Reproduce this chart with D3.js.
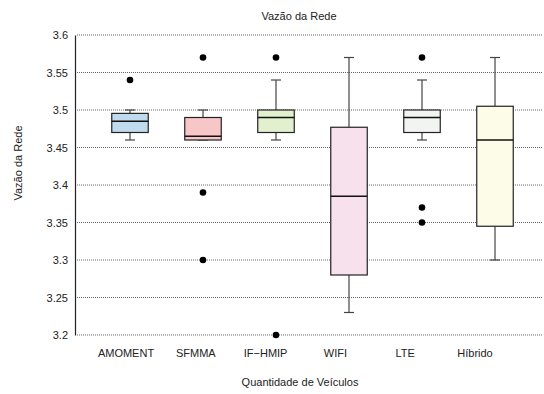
<!DOCTYPE html>
<html>
<head>
<meta charset="utf-8">
<script src="https://cdn.jsdelivr.net/npm/d3@7/dist/d3.min.js"></script>
<style>
  body { margin: 0; background: #fff; }
  svg { display: block; font-family: "Liberation Sans", Arial, sans-serif; }
</style>
</head>
<body>
<svg id="chart" width="544" height="394"></svg>
<script>
// Network throughput per protocol (five-number summaries plus outliers)
const categories = ["AMOMENT", "SFMMA", "IF\u2212HMIP", "WIFI", "LTE", "H\u00edbrido"];
const whiskerLow  = [3.46, 3.46, 3.46, 3.23, 3.46, 3.30];
const q1          = [3.47, 3.46, 3.47, 3.28, 3.47, 3.345];
const medians     = [3.485, 3.465, 3.49, 3.385, 3.49, 3.46];
const q3          = [3.4955, 3.49, 3.50, 3.477, 3.50, 3.505];
const whiskerHigh = [3.50, 3.50, 3.54, 3.57, 3.54, 3.57];
const outliers    = [[3.54], [3.57, 3.39, 3.30], [3.57, 3.20], [], [3.57, 3.37, 3.35], []];
const fills       = ["#c1dbee", "#f7c7c8", "#e3f0cd", "#f6e1ed", "#f2f4f2", "#fdfce8"];
const yTicks      = [3.2, 3.25, 3.3, 3.35, 3.4, 3.45, 3.5, 3.55, 3.6];

const svg = d3.select("#chart");

// Box positions and (slightly tighter) category label positions
const x = d3.scaleBand().domain(categories).range([93.5, 531.5]);
const xLabel = d3.scalePoint().domain(categories).range([126, 475]);
const y = d3.scaleLinear().domain([3.2, 3.6]).range([335, 35]);
const boxW = x.bandwidth() * 0.5;
const capW = 10;
const cx = d => x(d) + x.bandwidth() / 2;

// Horizontal dotted grid
svg.append("g").selectAll("line").data(yTicks).join("line")
  .attr("x1", 77).attr("x2", 543)
  .attr("y1", d => y(d)).attr("y2", d => y(d))
  .attr("stroke", "#666").attr("stroke-width", 1)
  .attr("stroke-dasharray", "1,1");

// Y axis
const yAxis = svg.append("g").attr("transform", "translate(75,0)")
  .call(d3.axisLeft(y).tickValues(yTicks).tickFormat(d3.format("~g")).tickSize(0).tickPadding(7));
yAxis.select(".domain").attr("stroke", "#222").attr("stroke-width", 1.2);
yAxis.selectAll("text").attr("font-size", 11).attr("fill", "#222")
  .attr("font-family", "Liberation Sans, Arial, sans-serif");

// X category labels
svg.append("g").selectAll("text").data(categories).join("text")
  .attr("x", d => xLabel(d)).attr("y", 357)
  .attr("text-anchor", "middle").attr("font-size", 11).attr("fill", "#222")
  .text(d => d);

const groups = svg.append("g").selectAll("g").data(categories).join("g");

// Whiskers
groups.append("line")
  .attr("x1", d => cx(d)).attr("x2", d => cx(d))
  .attr("y1", (d, i) => y(whiskerHigh[i])).attr("y2", (d, i) => y(q3[i]))
  .attr("stroke", "#444").attr("stroke-width", 1.2);
groups.append("line")
  .attr("x1", d => cx(d)).attr("x2", d => cx(d))
  .attr("y1", (d, i) => y(q1[i])).attr("y2", (d, i) => y(whiskerLow[i]))
  .attr("stroke", "#444").attr("stroke-width", 1.2);
groups.append("line")
  .attr("x1", d => cx(d) - capW / 2).attr("x2", d => cx(d) + capW / 2)
  .attr("y1", (d, i) => y(whiskerHigh[i])).attr("y2", (d, i) => y(whiskerHigh[i]))
  .attr("stroke", "#444").attr("stroke-width", 1.2);
groups.append("line")
  .attr("x1", d => cx(d) - capW / 2).attr("x2", d => cx(d) + capW / 2)
  .attr("y1", (d, i) => y(whiskerLow[i])).attr("y2", (d, i) => y(whiskerLow[i]))
  .attr("stroke", "#444").attr("stroke-width", 1.2);

// Boxes
groups.append("rect")
  .attr("x", d => cx(d) - boxW / 2).attr("width", boxW)
  .attr("y", (d, i) => y(q3[i])).attr("height", (d, i) => y(q1[i]) - y(q3[i]))
  .attr("fill", (d, i) => fills[i])
  .attr("stroke", "#222").attr("stroke-width", 1.2);

// Medians
groups.append("line")
  .attr("x1", d => cx(d) - boxW / 2).attr("x2", d => cx(d) + boxW / 2)
  .attr("y1", (d, i) => y(medians[i])).attr("y2", (d, i) => y(medians[i]))
  .attr("stroke", "#111").attr("stroke-width", 1.4);

// Outliers
groups.each(function (d, i) {
  d3.select(this).selectAll("circle").data(outliers[i]).join("circle")
    .attr("cx", cx(d)).attr("cy", v => y(v)).attr("r", 3.3)
    .attr("fill", "#000");
});

// Titles
svg.append("text").attr("x", 299).attr("y", 20)
  .attr("text-anchor", "middle").attr("font-size", 11).attr("fill", "#222")
  .text("Vaz\u00e3o da Rede");
svg.append("text").attr("x", 300).attr("y", 386)
  .attr("text-anchor", "middle").attr("font-size", 11).attr("fill", "#222")
  .text("Quantidade de Ve\u00edculos");
svg.append("text")
  .attr("transform", "translate(22,163) rotate(-90)")
  .attr("text-anchor", "middle").attr("font-size", 11).attr("fill", "#222")
  .text("Vaz\u00e3o da Rede");
</script>
</body>
</html>
